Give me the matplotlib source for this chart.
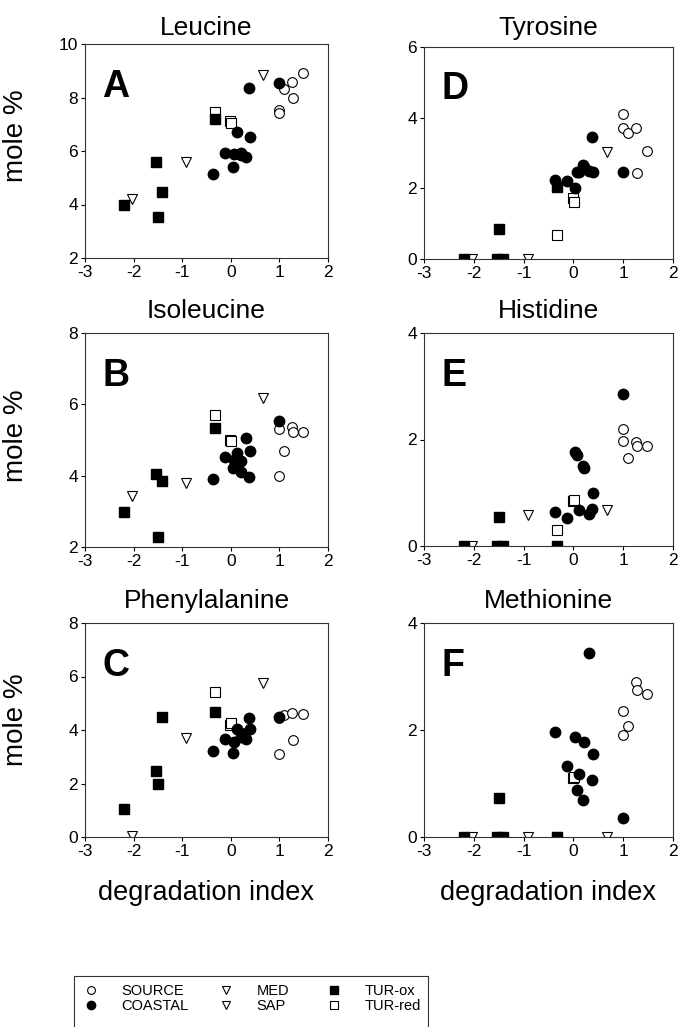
import matplotlib
matplotlib.use("Agg")
import matplotlib.pyplot as plt
from matplotlib.patches import Rectangle

plt.rcParams["font.family"] = ["Liberation Sans", "DejaVu Sans"]
plt.rcParams["axes.unicode_minus"] = False

# degradation index of each sample group
src_x = [1.00, 1.00, 1.10, 1.25, 1.27, 1.48]
coa_x = [-0.36, -0.12, 0.04, 0.07, 0.12, 0.20, 0.22, 0.32, 0.37, 0.40, 1.00]
med_x = [-0.92, 0.67]
sap_x = [-2.03]
tox_x = [-2.19, -1.54, -1.49, -1.42, -0.32]
tred_x = [-0.33, -0.01, 0.01]

# mole % per amino acid
leu_src = [7.53, 7.43, 8.31, 8.59, 8.00, 8.93]
leu_coa = [5.13, 5.91, 5.41, 5.88, 6.70, 5.94, 5.85, 5.79, 8.34, 6.54, 8.55]
leu_med = [5.58, 8.84]
leu_sap = [4.19]
leu_tox = [3.98, 5.58, 3.52, 4.48, 7.20]
leu_tred = [7.47, 7.13, 7.03]

ile_src = [5.30, 4.00, 4.69, 5.36, 5.23, 5.23]
ile_coa = [3.90, 4.53, 4.21, 4.44, 4.63, 4.11, 4.40, 5.07, 3.95, 4.70, 5.54]
ile_med = [3.80, 6.19]
ile_sap = [3.43]
ile_tox = [2.99, 4.04, 2.29, 3.85, 5.35]
ile_tred = [5.70, 5.00, 4.98]

phe_src = [4.44, 3.10, 4.55, 4.65, 3.63, 4.60]
phe_coa = [3.23, 3.65, 3.15, 3.56, 4.02, 3.75, 3.90, 3.65, 4.46, 4.02, 4.50]
phe_med = [3.69, 5.77]
phe_sap = [0.05]
phe_tox = [1.05, 2.48, 1.99, 4.50, 4.69]
phe_tred = [5.41, 4.19, 4.27]

tyr_src = [4.09, 3.70, 3.56, 3.70, 2.44, 3.07]
tyr_coa = [2.24, 2.22, 2.00, 2.47, 2.45, 2.66, 2.60, 2.50, 3.44, 2.46, 2.46]
tyr_med = [0.0, 3.04]
tyr_sap = [0.0]
tyr_tox = [0.0, 0.0, 0.85, 0.0, 2.05]
tyr_tred = [0.69, 1.72, 1.60]

his_src = [2.20, 1.98, 1.66, 1.95, 1.88, 1.88]
his_coa = [0.63, 0.53, 1.76, 1.71, 0.68, 1.51, 1.46, 0.60, 0.69, 0.99, 2.86]
his_med = [0.58, 0.67]
his_sap = [0.0]
his_tox = [0.0, 0.0, 0.55, 0.0, 0.0]
his_tred = [0.30, 0.85, 0.86]

met_src = [2.35, 1.90, 2.07, 2.90, 2.74, 2.68]
met_coa = [1.96, 1.32, 1.86, 0.87, 1.17, 0.69, 1.78, 3.43, 1.07, 1.55, 0.36]
met_med = [0.0, 0.0]
met_sap = [0.0]
met_tox = [0.0, 0.0, 0.72, 0.0, 0.0]
met_tred = [0.0, 1.11, 1.12]

W, H = 678, 1027
fig = plt.figure(figsize=(W / 100, H / 100), dpi=100)


def add_ax(x0, y0, x1, y1):
    return fig.add_axes([x0 / W, 1 - y1 / H, (x1 - x0) / W, (y1 - y0) / H])


panels = [
    # title, letter, box (px), ylim, yticks, data, title pad
    ("Leucine", "A", (85, 44, 328, 258), (2, 10), [2, 4, 6, 8, 10],
     (leu_src, leu_coa, leu_med, leu_sap, leu_tox, leu_tred), 6.5),
    ("Isoleucine", "B", (85, 333, 328, 547), (2, 8), [2, 4, 6, 8],
     (ile_src, ile_coa, ile_med, ile_sap, ile_tox, ile_tred), 10.5),
    ("Phenylalanine", "C", (85, 623, 328, 837), (0, 8), [0, 2, 4, 6, 8],
     (phe_src, phe_coa, phe_med, phe_sap, phe_tox, phe_tred), 10.5),
    ("Tyrosine", "D", (424, 47, 673, 259), (0, 6), [0, 2, 4, 6],
     (tyr_src, tyr_coa, tyr_med, tyr_sap, tyr_tox, tyr_tred), 8.5),
    ("Histidine", "E", (424, 333, 673, 546), (0, 4), [0, 2, 4],
     (his_src, his_coa, his_med, his_sap, his_tox, his_tred), 11),
    ("Methionine", "F", (424, 623, 673, 837), (0, 4), [0, 2, 4],
     (met_src, met_coa, met_med, met_sap, met_tox, met_tred), 10.5),
]

handles = {}
for i, (title, letter, box, ylim, yticks, data, tpad) in enumerate(panels):
    src, coa, med, sap, tox, tred = data
    ax = add_ax(*box)
    open_kw = dict(linestyle="none", mfc="white", mec="black", mew=0.8)
    l1, = ax.plot(src_x, src, "o", ms=7, label="SOURCE", **open_kw)
    l6, = ax.plot(tred_x, tred, "s", ms=7.5, label="TUR-red", **open_kw)
    l3, = ax.plot(med_x, med, "v", ms=7.5, label="MED", **open_kw)
    l4, = ax.plot(sap_x, sap, "v", ms=7.5, label="SAP", **open_kw)
    l5, = ax.plot(tox_x, tox, "s", ms=7.5, color="black", linestyle="none",
                  label="TUR-ox")
    l2, = ax.plot(coa_x, coa, "o", ms=7.5, color="black", linestyle="none",
                  label="COASTAL")
    if i == 0:
        for ln in (l1, l2, l3, l4, l5, l6):
            handles[ln.get_label()] = ln

    ax.set_xlim(-3, 2)
    ax.set_xticks(range(-3, 3))
    ax.set_ylim(*ylim)
    ax.set_yticks(yticks)
    ax.tick_params(direction="out", length=3, width=0.8, labelsize=12.5, pad=2)
    for sp in ax.spines.values():
        sp.set_linewidth(0.8)
        sp.set_color("#333333")
    ax.set_title(title, fontsize=19, pad=tpad)
    ax.text(0.07, 0.80, letter, transform=ax.transAxes, fontsize=27,
            fontweight="bold", ha="left", va="center")

    if box[0] < 200:
        ax.set_ylabel("mole %", fontsize=20)
        ax.yaxis.set_label_coords(-0.23, [0.57, 0.52, 0.55][i])
    if letter in ("C", "F"):
        ax.set_xlabel("degradation index", fontsize=19.5)
        ax.xaxis.set_label_coords(0.5, -0.2)

# legend, one column at a time
cols = [(["SOURCE", "COASTAL"], 91), (["MED", "SAP"], 226), (["TUR-ox", "TUR-red"], 334)]
for labels, mx in cols:
    fig.legend([handles[k] for k in labels], labels, loc="upper left",
               bbox_to_anchor=((mx - 14.6) / W, 1 - 984 / H), frameon=False,
               fontsize=10.5, borderpad=0, borderaxespad=0, handlelength=2,
               handletextpad=1.1, labelspacing=0.05, markerscale=0.8)

fig.add_artist(Rectangle((74 / W, 1 - 1040 / H), (428 - 74) / W, (1040 - 976) / H,
                         transform=fig.transFigure, fill=False, lw=0.8,
                         ec="#333333", clip_on=False))

fig.savefig("out.png", dpi=100)
